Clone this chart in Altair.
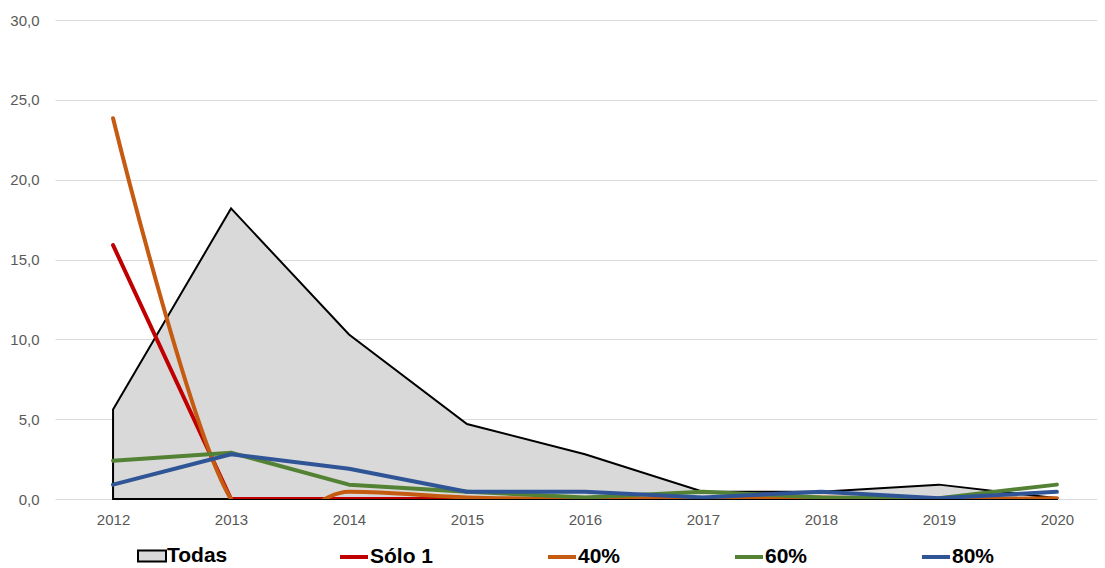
import altair as alt
import pandas as pd

years = [2012, 2013, 2014, 2015, 2016, 2017, 2018, 2019, 2020]
series_names = ["Todas", "Sólo 1", "40%", "60%", "80%"]
todas = [5.6, 18.2, 10.3, 4.7, 2.8, 0.45, 0.45, 0.9, 0.05]
solo1 = [15.9, 0.0, 0.0, 0.0, 0.0, 0.0, 0.0, 0.0, 0.0]
p40 = [23.85, 0.0, 0.45, 0.1, 0.0, 0.05, 0.1, 0.0, 0.05]
p60 = [2.4, 2.9, 0.9, 0.45, 0.1, 0.45, 0.1, 0.05, 0.9]
p80 = [0.9, 2.8, 1.9, 0.45, 0.45, 0.1, 0.45, 0.05, 0.45]
colors = ["#d9d9d9", "#c00000", "#c55a11", "#548235", "#2f5597"]
y_ticks = [0, 5, 10, 15, 20, 25, 30]

rows = []
for name, vals in zip(series_names, [todas, solo1, p40, p60, p80]):
    for yr, v in zip(years, vals):
        rows.append({"year": yr, "value": v, "serie": name})
df = pd.DataFrame(rows)

FONT = "Liberation Sans"

x_enc = alt.X(
    "year:Q",
    scale=alt.Scale(domain=[2011.508, 2020.34], nice=False, zero=False),
    axis=alt.Axis(values=years, format="d", title=None, grid=False, ticks=False,
                  domain=False, labelFont=FONT, labelFontSize=15, labelColor="#595959",
                  labelPadding=13),
)
y_enc = alt.Y(
    "value:Q",
    scale=alt.Scale(domain=[0, 30], nice=False),
    axis=alt.Axis(values=y_ticks, title=None, ticks=False, domain=False,
                  gridColor="#d9d9d9", gridWidth=1,
                  labelExpr="replace(format(datum.value, '.1f'), '.', ',')",
                  labelFont=FONT, labelFontSize=15, labelColor="#595959", labelPadding=16),
)

common_legend = dict(
    orient="none", legendY=521, direction="horizontal", title=None, padding=0,
    labelFont=FONT, labelFontSize=21, labelFontWeight="bold", labelColor="black",
    labelOffset=0, symbolSize=784,
)
fill_legend = alt.Legend(
    legendX=82, symbolType="M-1,-0.4H1V0.4H-1Z", symbolStrokeWidth=2,
    symbolStrokeColor="black", symbolFillColor="#d9d9d9", **common_legend)
stroke_legend = alt.Legend(
    legendX=283, columns=4, columnPadding=106, symbolType="stroke",
    symbolStrokeWidth=4, **common_legend)

area = alt.Chart(df).transform_filter(alt.datum.serie == "Todas").mark_area(
    stroke="black", strokeWidth=2, opacity=1, fillOpacity=1
).encode(
    x=x_enc, y=y_enc,
    fill=alt.Fill("serie:N", scale=alt.Scale(domain=series_names[:1], range=colors[:1]),
                  legend=fill_legend),
)

stroke_enc = alt.Stroke("serie:N",
                        scale=alt.Scale(domain=series_names[1:], range=colors[1:]),
                        legend=stroke_legend)

layers = [area]
for name in series_names[1:]:
    interp = "cardinal" if name == "40%" else "linear"
    layers.append(
        alt.Chart(df).transform_filter(alt.datum.serie == name).mark_line(
            strokeWidth=4, interpolate=interp, clip=True, strokeCap="round",
            strokeJoin="round"
        ).encode(x=x_enc, y=y_enc, stroke=stroke_enc)
    )

chart = alt.layer(*layers).properties(
    width=1042, height=479,
    autosize=alt.AutoSizeParams(type="none"),
    padding={"left": 47, "top": 12, "right": 0, "bottom": 68},
    background="white",
).configure_view(stroke=None)

chart.save("out.html", embed_options={"renderer": "svg", "actions": False})
